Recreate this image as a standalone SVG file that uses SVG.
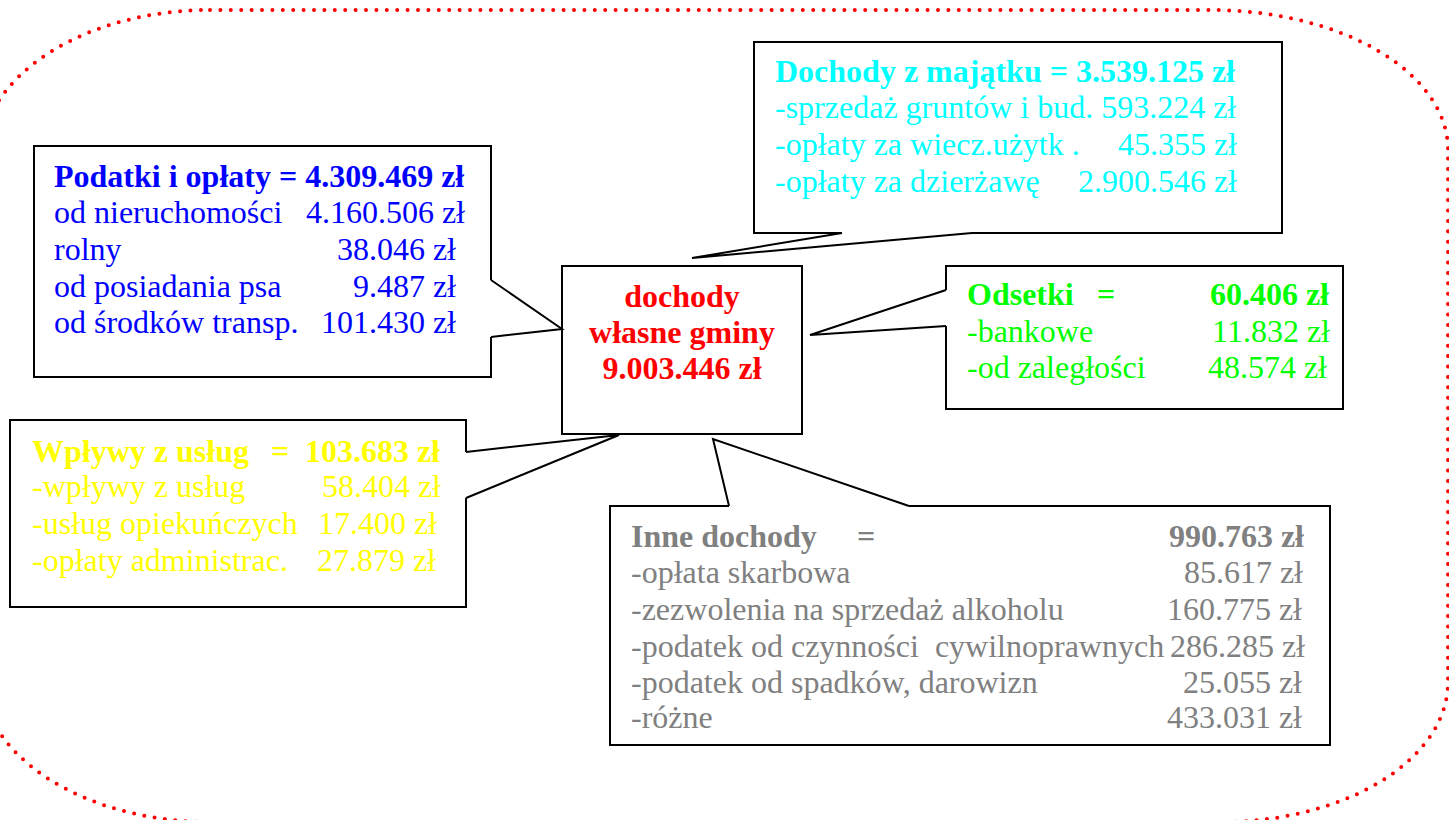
<svg xmlns="http://www.w3.org/2000/svg" width="1449" height="820" viewBox="0 0 1449 820">
<style>
  text { font-family: "Liberation Serif", "Times New Roman", serif; font-size: 32px; }
  .b { font-weight: bold; }
  .e { text-anchor: end; }
  .box { fill: none; stroke: #000; stroke-width: 2; stroke-linejoin: miter; }
  .conn { fill: none; stroke: #000; stroke-width: 2; stroke-linejoin: miter; }
  .blue { fill: #0000FF; }
  .red { fill: #FF0000; }
  .cyan { fill: #00FFFF; }
  .green { fill: #00FF00; }
  .yellow { fill: #FFFF00; }
  .grey { fill: #808080; }
  .frame { fill: none; stroke: #FF0000; stroke-width: 4; stroke-dasharray: 0 10.4; stroke-linecap: round; }
</style>
<rect x="0" y="0" width="1449" height="820" fill="#FFFFFF"/>
<path class="frame" d="M 210,10 L 1211,10 A 237 140 0 0 1 1448,150 L 1448,682 A 227 140 0 0 1 1221,822 L 210,822 A 230 150 0 0 1 -20,672 L -20,160 A 230 150 0 0 1 210,10 Z"/>

<g id="connectors">
  <polyline class="conn" points="491,280 562,329 491,337"/>
  <polyline class="conn" points="842,233 692,258 972,233"/>
  <polyline class="conn" points="946,290 810,335 946,326"/>
  <polyline class="conn" points="466,452 619,435 466,498"/>
  <polyline class="conn" points="729,506 713,439 909,506"/>
</g>

<g id="node-center">
  <rect class="box" x="562" y="266" width="240" height="168"/>
  <text class="b red" x="682" y="307" text-anchor="middle">dochody</text>
  <text class="b red" x="682" y="343" text-anchor="middle">własne gminy</text>
  <text class="b red" x="682" y="379" text-anchor="middle">9.003.446 zł</text>
</g>

<g id="node-podatki">
  <path class="box" d="M491,337 L491,377 L34,377 L34,146 L491,146 L491,280"/>
  <text class="b blue" x="54" y="187">Podatki i opłaty = 4.309.469 zł</text>
  <text class="blue" x="54" y="223">od nieruchomości<tspan class="e" x="465">4.160.506 zł</tspan></text>
  <text class="blue" x="54" y="260">rolny<tspan class="e" x="456">38.046 zł</tspan></text>
  <text class="blue" x="54" y="297">od posiadania psa<tspan class="e" x="456">9.487 zł</tspan></text>
  <text class="blue" x="54" y="333">od środków transp.<tspan class="e" x="456">101.430 zł</tspan></text>
</g>

<g id="node-majatek">
  <path class="box" d="M842,233 L754,233 L754,42 L1282,42 L1282,233 L972,233"/>
  <text class="b cyan" x="775" y="82">Dochody z majątku = 3.539.125 zł</text>
  <text class="cyan" x="775" y="118">-sprzedaż gruntów i bud. 593.224 zł</text>
  <text class="cyan" x="775" y="155">-opłaty za wiecz.użytk .<tspan class="e" x="1237">45.355 zł</tspan></text>
  <text class="cyan" x="775" y="192">-opłaty za dzierżawę<tspan class="e" x="1237">2.900.546 zł</tspan></text>
</g>

<g id="node-odsetki">
  <path class="box" d="M946,290 L946,266 L1343,266 L1343,409 L946,409 L946,326"/>
  <text class="b green" x="967" y="305">Odsetki<tspan x="1097">=</tspan><tspan class="e" x="1329">60.406 zł</tspan></text>
  <text class="green" x="967" y="342">-bankowe<tspan class="e" x="1330">11.832 zł</tspan></text>
  <text class="green" x="967" y="378">-od zaległości<tspan class="e" x="1327">48.574 zł</tspan></text>
</g>

<g id="node-wplywy">
  <path class="box" d="M466,452 L466,420 L10,420 L10,607 L466,607 L466,498"/>
  <text class="b yellow" x="32" y="462">Wpływy z usług<tspan x="271">=</tspan><tspan class="e" x="440">103.683 zł</tspan></text>
  <text class="yellow" x="32" y="497">-wpływy z usług<tspan class="e" x="441">58.404 zł</tspan></text>
  <text class="yellow" x="32" y="534">-usług opiekuńczych<tspan class="e" x="437">17.400 zł</tspan></text>
  <text class="yellow" x="32" y="571">-opłaty administrac.<tspan class="e" x="436">27.879 zł</tspan></text>
</g>

<g id="node-inne">
  <path class="box" d="M729,506 L610,506 L610,745 L1330,745 L1330,506 L909,506"/>
  <text class="b grey" x="631" y="547">Inne dochody<tspan x="857">=</tspan><tspan class="e" x="1304">990.763 zł</tspan></text>
  <text class="grey" x="631" y="583">-opłata skarbowa<tspan class="e" x="1303">85.617 zł</tspan></text>
  <text class="grey" x="631" y="620">-zezwolenia na sprzedaż alkoholu<tspan class="e" x="1302">160.775 zł</tspan></text>
  <text class="grey" x="631" y="657" xml:space="preserve">-podatek od czynności  cywilnoprawnych<tspan class="e" x="1305">286.285 zł</tspan></text>
  <text class="grey" x="631" y="693">-podatek od spadków, darowizn<tspan class="e" x="1302">25.055 zł</tspan></text>
  <text class="grey" x="631" y="728">-różne<tspan class="e" x="1302">433.031 zł</tspan></text>
</g>
</svg>
